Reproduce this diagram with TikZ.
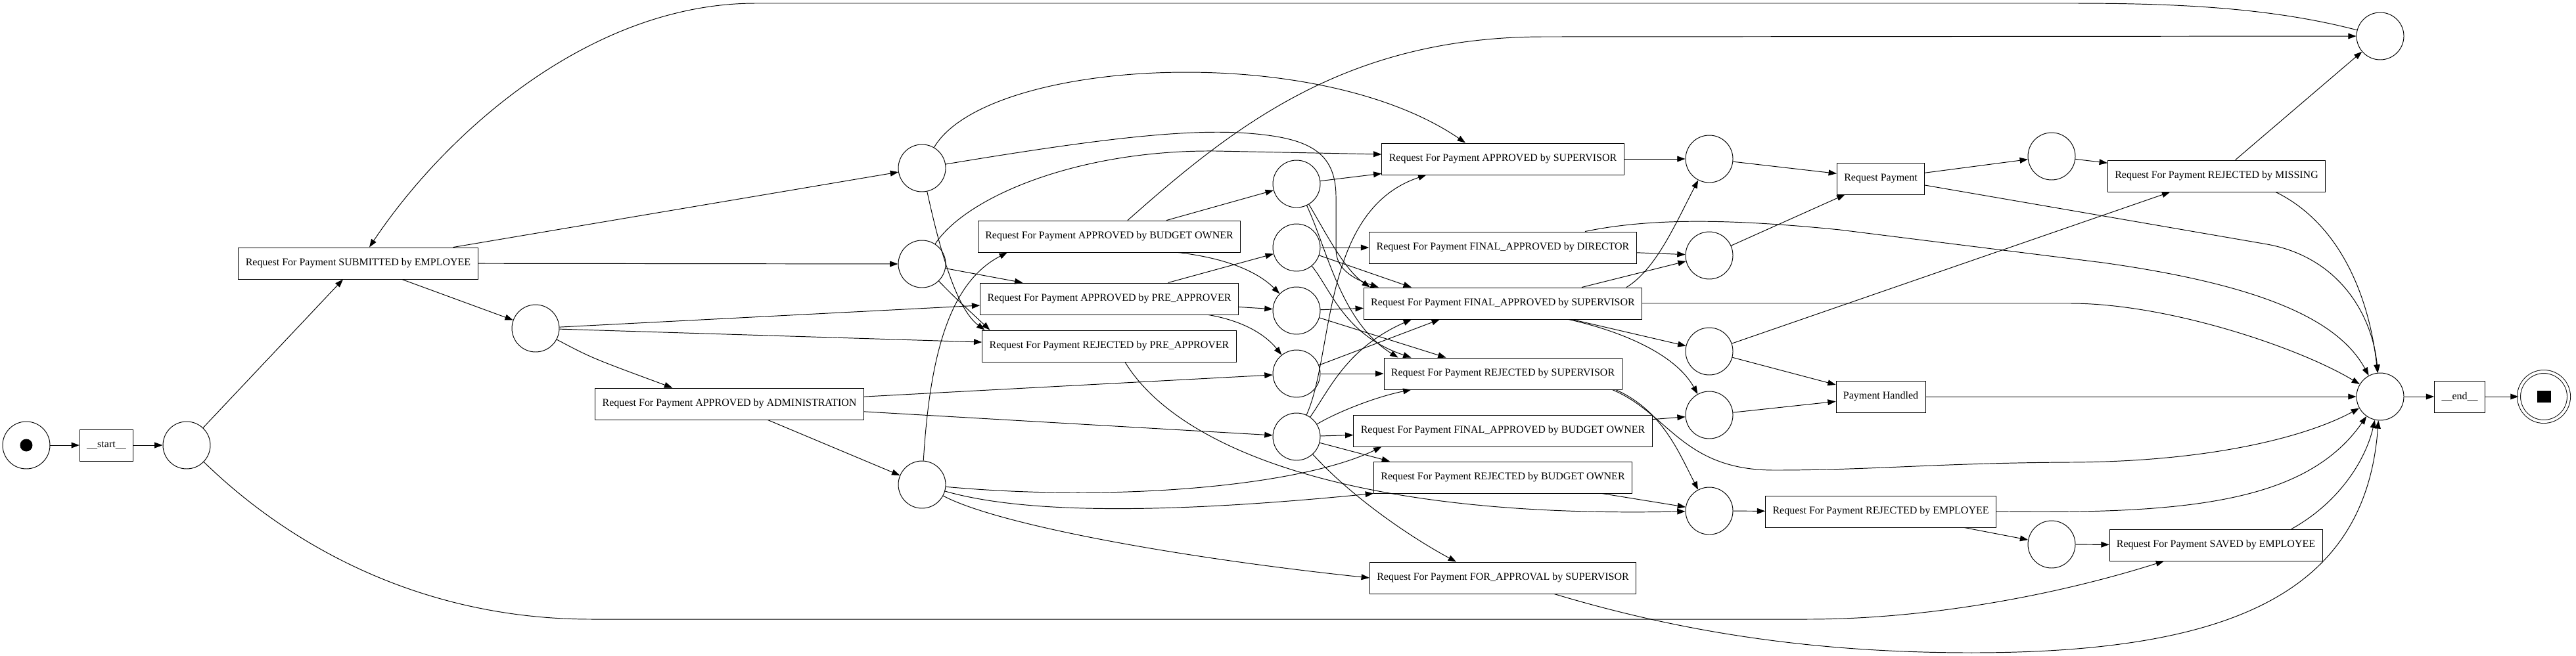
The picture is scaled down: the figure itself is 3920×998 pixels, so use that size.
\documentclass[tikz,border=0pt]{standalone}
\usepackage{fontspec}
\setmainfont{Liberation Serif}
\usetikzlibrary{arrows.meta,calc,positioning}

\begin{document}
\begin{tikzpicture}[
    x=0.02cm, y=-0.02cm,
    place/.style={circle, draw, line width=0.55pt, minimum size=1.44cm, inner sep=0pt},
    trans/.style={rectangle, draw, line width=0.55pt, minimum height=0.96cm, inner xsep=6.2pt, font=\fontsize{9.1}{10}\selectfont},
    flow/.style={-{Triangle[length=7pt,width=5pt]}, line width=0.55pt}
]
\useasboundingbox (0,0) rectangle (3920,998);

% places and transitions
\node[place] (src) at (40,678) {};
\node[fill, circle, minimum size=0.38cm, inner sep=0pt] (tok) at (40,678) {};
\node[trans] (tstart) at (162,678) {\_\_start\_\_};
\node[place] (p1) at (284,678) {};
\node[trans] (sub) at (545,401) {Request For Payment SUBMITTED by EMPLOYEE};
\node[place] (p2) at (815,500) {};
\node[trans] (admin) at (1110,615) {Request For Payment APPROVED by ADMINISTRATION};
\node[place] (p3) at (1403,256) {};
\node[place] (p4) at (1403,402) {};
\node[place] (p5) at (1403,738) {};
\node[trans] (budget) at (1688,360) {Request For Payment APPROVED by BUDGET OWNER};
\node[trans] (pre) at (1688,455) {Request For Payment APPROVED by PRE\_APPROVER};
\node[trans] (rejpre) at (1688,527) {Request For Payment REJECTED by PRE\_APPROVER};
\node[place] (p6) at (1973,280) {};
\node[place] (p7) at (1973,377) {};
\node[place] (p8) at (1973,473) {};
\node[place] (p9) at (1973,569) {};
\node[place] (p10) at (1973,665) {};
\node[trans] (appsup) at (2287,242) {Request For Payment APPROVED by SUPERVISOR};
\node[trans] (findir) at (2287,377) {Request For Payment FINAL\_APPROVED by DIRECTOR};
\node[trans] (finsup) at (2287,462) {Request For Payment FINAL\_APPROVED by SUPERVISOR};
\node[trans] (rejsup) at (2287,569) {Request For Payment REJECTED by SUPERVISOR};
\node[trans] (finbud) at (2287,656) {Request For Payment FINAL\_APPROVED by BUDGET OWNER};
\node[trans] (rejbud) at (2287,727) {Request For Payment REJECTED by BUDGET OWNER};
\node[trans] (forapp) at (2287,880) {Request For Payment FOR\_APPROVAL by SUPERVISOR};
\node[place] (p11) at (2601,242) {};
\node[place] (p12) at (2601,389) {};
\node[place] (p13) at (2601,535) {};
\node[place] (p14) at (2601,632) {};
\node[place] (p15) at (2601,778) {};
\node[trans] (reqpay) at (2862,272) {Request Payment};
\node[trans] (handled) at (2862,604) {Payment Handled};
\node[trans] (rejemp) at (2862,779) {Request For Payment REJECTED by EMPLOYEE};
\node[place] (p16) at (3122,238) {};
\node[place] (p17) at (3122,829) {};
\node[trans] (rejmis) at (3373,268) {Request For Payment REJECTED by MISSING};
\node[trans] (saved) at (3372,830) {Request For Payment SAVED by EMPLOYEE};
\node[place] (p18) at (3622,55) {};
\node[place] (sink) at (3622,604) {};
\node[trans] (tend) at (3743,604) {\_\_end\_\_};
\node[place, double, double distance=2.3pt, minimum size=1.52cm] (fin) at (3871,604) {};
\node[fill, rectangle, minimum width=0.42cm, minimum height=0.36cm, inner sep=0pt] (finmark) at (3871,604) {};

% start part
\draw[flow] (src) -- (tstart);
\draw[flow] (tstart) -- (p1);
\draw[flow] (p1) -- (sub);
\draw[flow] (p1) .. controls (440,830) and (640,943) .. (900,943) -- (2750,943) .. controls (2950,943) and (3150,900) .. ($(saved.south)+(-79,0)$);
\draw[flow] (p18) .. controls (3450,10) and (3300,5) .. (3150,5) -- (1150,5) .. controls (900,5) and (680,200) .. ($(sub.north)+(17,0)$);
\draw[flow] (sub) -- (p2);
\draw[flow] (sub) -- (p3);
\draw[flow] (sub) -- (p4);
\draw[flow] (p2) -- (pre);
\draw[flow] (p2) -- (rejpre);
\draw[flow] (p2) .. controls (900,545) .. ($(admin.north west)+(118,0)$);

% first column of places
\draw[flow] (p3) .. controls (1500,90) and (2000,60) .. ($(appsup.north)+(-57,0)$);
\draw[flow] (p3) .. controls (1430,380) and (1455,470) .. ($(rejpre.north west)+(4,0)$);
\draw[flow] (p3) .. controls (1650,215) and (1800,195) .. (1900,203) .. controls (1990,210) and (2033,230) .. (2033,300) -- (2033,380) .. controls (2033,410) and (2060,425) .. ($(finsup.north west)+(23,0)$);
\draw[flow] (p4) .. controls (1470,300) and (1640,228) .. (1850,230) -- ($(appsup.west)+(0,-7)$);
\draw[flow] (p4) -- (pre);
\draw[flow] (p4) .. controls (1450,450) .. ($(rejpre.north west)+(12,0)$);
\draw[flow] (admin) -- (p5);
\draw[flow] (admin) -- (p9);
\draw[flow] (admin) -- (p10);
\draw[flow] (p5) .. controls (1415,540) and (1445,430) .. ($(budget.south west)+(45,0)$);
\draw[flow] (p5) .. controls (1700,765) and (1980,740) .. ($(finbud.south west)+(43,0)$);
\draw[flow] (p5) .. controls (1550,780) and (1750,785) .. (rejbud.south west);
\draw[flow] (p5) .. controls (1520,800) and (1800,850) .. (forapp.west);

% approvals
\draw[flow] (budget) -- (p6);
\draw[flow] ($(budget.south)+(105,0)$) .. controls (1880,395) and (1920,420) .. (p8);
\draw[flow] ($(budget.north)+(28,0)$) .. controls (1880,190) and (2050,56) .. (2350,56) -- (p18);
\draw[flow] (pre) -- (p7);
\draw[flow] (pre) -- (p8);
\draw[flow] ($(pre.south east)+(-46,0)$) .. controls (1900,490) and (1930,515) .. (p9);
\draw[flow] ($(rejpre.south)+(24,0)$) .. controls (1790,680) and (2050,790) .. (p15);

% second column of places
\draw[flow] (p6) -- (appsup);
\draw[flow] (p6) .. controls (2015,350) and (2045,410) .. ($(finsup.north west)+(10,0)$);
\draw[flow] (p6) .. controls (2020,380) and (2040,490) .. ($(rejsup.north west)+(22,0)$);
\draw[flow] (p7) -- (findir);
\draw[flow] (p7) -- ($(finsup.north west)+(73,0)$);
\draw[flow] (p7) .. controls (2025,440) and (2045,510) .. ($(rejsup.north west)+(42,0)$);
\draw[flow] (p8) -- (finsup);
\draw[flow] (p8) -- ($(rejsup.north west)+(95,0)$);
\draw[flow] (p9) -- ($(finsup.south west)+(116,0)$);
\draw[flow] (p9) -- (rejsup);
\draw[flow] (p10) .. controls (2030,540) and (2010,320) .. ($(appsup.south west)+(68,0)$);
\draw[flow] (p10) .. controls (2025,590) and (2050,530) .. ($(finsup.south west)+(73,0)$);
\draw[flow] (p10) .. controls (2030,630) and (2090,605) .. ($(rejsup.south west)+(42,0)$);
\draw[flow] (p10) -- (finbud);
\draw[flow] (p10) -- ($(rejbud.north west)+(25,0)$);
\draw[flow] (p10) .. controls (2060,760) and (2150,820) .. ($(forapp.north)+(-71,0)$);

% supervisor steps
\draw[flow] (appsup) -- (p11);
\draw[flow] (findir) -- (p12);
\draw[flow] ($(findir.north)+(125,0)$) .. controls (2520,330) and (2650,335) .. (2800,350) -- (3200,400) .. controls (3450,435) and (3560,490) .. (sink);
\draw[flow] (finsup.east) -- (3150,462) .. controls (3300,462) and (3500,530) .. (sink);
\draw[flow] ($(finsup.north)+(188,0)$) .. controls (2520,410) and (2550,340) .. (p11);
\draw[flow] ($(finsup.north)+(120,0)$) -- (p12);
\draw[flow] (finsup) -- (p13);
\draw[flow] ($(finsup.south)+(100,0)$) .. controls (2470,505) and (2550,540) .. (p14);
\draw[flow] ($(rejsup.south east)+(-10,0)$) .. controls (2530,625) and (2555,690) .. (p15);
\draw[flow] ($(rejsup.south east)+(-15,0)$) .. controls (2540,630) and (2560,716) .. (2700,716) .. controls (2850,716) and (2950,705) .. (3150,704) .. controls (3380,703) and (3520,660) .. (sink);
\draw[flow] (finbud) -- (p14);
\draw[flow] (rejbud) -- (p15);
\draw[flow] ($(forapp.south)+(78,0)$) .. controls (2550,960) and (2750,994) .. (3000,994) .. controls (3400,994) and (3600,900) .. (sink);

% end part
\draw[flow] (p11) -- (reqpay);
\draw[flow] (p12) -- (reqpay);
\draw[flow] (p13) -- (rejmis);
\draw[flow] (p13) -- (handled);
\draw[flow] (p14) -- (handled);
\draw[flow] (p15) -- (rejemp);
\draw[flow] (reqpay) -- (p16);
\draw[flow] ($(reqpay.east)+(0,10)$) -- (3450,372) .. controls (3560,392) and (3610,480) .. (sink);
\draw[flow] (p16) -- (rejmis);
\draw[flow] (rejmis) -- (p18);
\draw[flow] ($(rejmis.south)+(90,0)$) .. controls (3560,340) and (3605,450) .. (sink);
\draw[flow] (handled) -- (sink);
\draw[flow] (rejemp) -- (p17);
\draw[flow] (rejemp.east) .. controls (3330,783) and (3510,765) .. (sink);
\draw[flow] (p17) -- (saved);
\draw[flow] ($(saved.north)+(115,0)$) .. controls (3560,765) and (3600,700) .. (sink);
\draw[flow] (sink) -- (tend);
\draw[flow] (tend) -- (fin);

\end{tikzpicture}
\end{document}
